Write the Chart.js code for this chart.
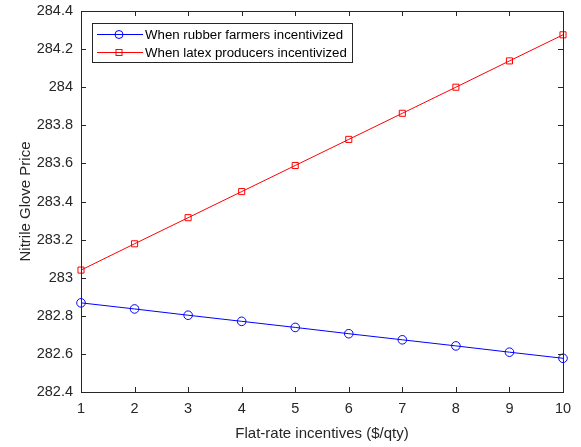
<!DOCTYPE html>
<html>
<head>
<meta charset="utf-8">
<script src="https://cdn.jsdelivr.net/npm/chart.js@4.4.0/dist/chart.umd.min.js"></script>
<style>
  html, body { margin: 0; padding: 0; background: #fff; }
  #wrap { width: 581px; height: 447px; }
</style>
</head>
<body>
<div id="wrap"><canvas id="priceChart" width="581" height="447"></canvas></div>
<script>
// Data
const incentives = [1, 2, 3, 4, 5, 6, 7, 8, 9, 10];
const rubberFarmers = [282.868, 282.836, 282.803, 282.771, 282.739, 282.706, 282.674, 282.642, 282.609, 282.577];
const latexProducers = [283.040, 283.178, 283.315, 283.452, 283.589, 283.726, 283.863, 284.000, 284.138, 284.275];
const xTicks = [1, 2, 3, 4, 5, 6, 7, 8, 9, 10];
const yTicks = [282.4, 282.6, 282.8, 283, 283.2, 283.4, 283.6, 283.8, 284, 284.2, 284.4];

const axisColor = '#262626';
const fontFamily = 'Liberation Sans, Arial, Helvetica, sans-serif';

// Box around the plot with inward ticks on all four sides (like matlab)
const boxPlugin = {
    id: 'boxTicks',
    afterDraw(chart) {
        const ctx = chart.ctx;
        const a = chart.chartArea;
        const xs = chart.scales.x, ys = chart.scales.y;
        const len = 5;
        ctx.save();
        ctx.strokeStyle = axisColor;
        ctx.lineWidth = 1;
        ctx.strokeRect(Math.round(a.left) + 0.5, Math.round(a.top) + 0.5,
            Math.round(a.right - a.left), Math.round(a.bottom - a.top));
        ctx.beginPath();
        xTicks.forEach(v => {
            const px = Math.round(xs.getPixelForValue(v)) + 0.5;
            ctx.moveTo(px, a.bottom); ctx.lineTo(px, a.bottom - len);
            ctx.moveTo(px, a.top); ctx.lineTo(px, a.top + len);
        });
        yTicks.forEach(v => {
            const py = Math.round(ys.getPixelForValue(v)) + 0.5;
            ctx.moveTo(a.left, py); ctx.lineTo(a.left + len, py);
            ctx.moveTo(a.right, py); ctx.lineTo(a.right - len, py);
        });
        ctx.stroke();
        ctx.restore();
    }
};

// Legend drawn inside the plot, top left corner
const legendPlugin = {
    id: 'innerLegend',
    afterDraw(chart) {
        const ctx = chart.ctx;
        const a = chart.chartArea;
        const x0 = Math.round(a.left) + 11, y0 = Math.round(a.top) + 12;
        const w = 260, rowH = 18, h = 39;
        ctx.save();
        ctx.fillStyle = '#fff';
        ctx.fillRect(x0, y0, w, h);
        ctx.strokeStyle = axisColor;
        ctx.lineWidth = 1;
        ctx.strokeRect(x0 + 0.5, y0 + 0.5, w, h);
        ctx.font = '13.25px ' + fontFamily;
        ctx.textBaseline = 'middle';
        chart.data.datasets.forEach((ds, i) => {
            const cy = Math.round(y0 + 10.5 + i * rowH) + 0.5;
            ctx.strokeStyle = ds.borderColor;
            ctx.beginPath();
            ctx.moveTo(x0 + 5, cy); ctx.lineTo(x0 + 51, cy);
            ctx.stroke();
            if (ds.pointStyle === 'circle') {
                ctx.beginPath();
                ctx.arc(x0 + 27, cy, 4, 0, Math.PI * 2);
                ctx.stroke();
            } else {
                ctx.strokeRect(x0 + 24, cy - 3, 6, 6);
            }
            ctx.fillStyle = '#000';
            ctx.fillText(ds.label, x0 + 53, cy + 0.5);
        });
        ctx.restore();
    }
};

const ctx = document.getElementById('priceChart').getContext('2d');
const chart = new Chart(ctx, {
    type: 'line',
    data: {
        labels: incentives,
        datasets: [
            {
                label: 'When rubber farmers incentivized',
                data: incentives.map((x, i) => ({ x: x, y: rubberFarmers[i] })),
                borderColor: '#0000ff',
                backgroundColor: 'rgba(0,0,0,0)',
                borderWidth: 1,
                pointStyle: 'circle',
                pointRadius: 4.3,
                pointBorderWidth: 1,
                tension: 0
            },
            {
                label: 'When latex producers incentivized',
                data: incentives.map((x, i) => ({ x: x, y: latexProducers[i] })),
                borderColor: '#ff0000',
                backgroundColor: 'rgba(0,0,0,0)',
                borderWidth: 1,
                pointStyle: 'rect',
                pointRadius: 4.3,
                pointBorderWidth: 1,
                tension: 0
            }
        ]
    },
    options: {
        responsive: false,
        animation: false,
        clip: false,
        layout: { padding: { top: 11, right: 18, left: 0, bottom: 0 } },
        plugins: { legend: { display: false }, tooltip: { enabled: false } },
        scales: {
            x: {
                type: 'linear',
                min: 1,
                max: 10,
                afterBuildTicks: s => { s.ticks = xTicks.map(v => ({ value: v })); },
                afterFit: s => { s.height = 55; s.paddingLeft = 0; s.paddingRight = 0; },
                grid: { display: false, drawTicks: false },
                border: { display: false },
                ticks: { color: axisColor, font: { family: fontFamily, size: 14.5 }, padding: 8, maxRotation: 0 },
                title: {
                    display: true,
                    text: 'Flat-rate incentives ($/qty)',
                    color: axisColor,
                    font: { family: fontFamily, size: 15 },
                    padding: { top: 3 }
                }
            },
            y: {
                type: 'linear',
                min: 282.4,
                max: 284.4,
                afterBuildTicks: s => { s.ticks = yTicks.map(v => ({ value: v })); },
                afterFit: s => { s.width = 81; s.paddingTop = 0; s.paddingBottom = 0; },
                grid: { display: false, drawTicks: false },
                border: { display: false },
                ticks: {
                    color: axisColor,
                    font: { family: fontFamily, size: 14.5 },
                    padding: 8,
                    callback: v => String(Number(v.toFixed(1)))
                },
                title: {
                    display: true,
                    text: 'Nitrile Glove Price',
                    color: axisColor,
                    font: { family: fontFamily, size: 15 },
                    padding: { bottom: 0, top: 17 }
                }
            }
        }
    },
    plugins: [boxPlugin, legendPlugin]
});
</script>
</body>
</html>
